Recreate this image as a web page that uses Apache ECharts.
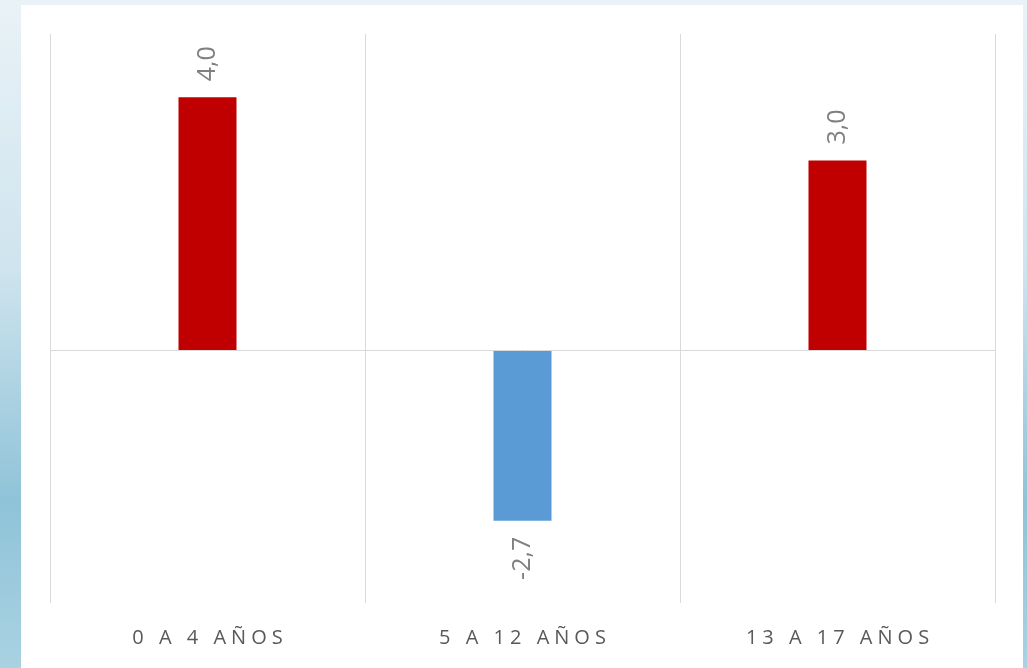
<!DOCTYPE html>
<html>
<head>
<meta charset="utf-8">
<script src="https://cdn.jsdelivr.net/npm/echarts@6/dist/echarts.min.js"></script>
<style>
  html, body {
    margin: 0;
    padding: 0;
    width: 1027px;
    height: 668px;
    overflow: hidden;
    background: linear-gradient(180deg, #e9f2f7 0%, #cfe4ee 40%, #8fc3d8 75%, #a9d2e2 100%);
  }
  .panel {
    position: absolute;
    left: 21px;
    top: 5px;
    width: 1002px;
    height: 663px;
    background: #ffffff;
  }
  #chart {
    position: absolute;
    left: 0;
    top: 0;
    width: 1027px;
    height: 668px;
  }
</style>
</head>
<body>
<div class="panel"></div>
<div id="chart"></div>
<script>
  // datos
  var categorias = ['0 A 4 AÑOS', '5 A 12 AÑOS', '13 A 17 AÑOS']
  var valores = [4.0, -2.7, 3.0]

  var rojo = '#C00000'
  var azul = '#5B9BD5'

  var myChart = echarts.init(document.getElementById('chart'))

  var barData = valores.map(function (v) {
    return {
      value: v,
      itemStyle: { color: v < 0 ? azul : rojo },
      label: v < 0
        ? { position: 'bottom', align: 'right' }
        : { position: 'top', align: 'left' }
    }
  })

  // espaciado entre letras (no hay letterSpacing en echarts)
  function espaciar(v) {
    return v.replace(/(\S)(?=\S)/g, '$1\u2005').replace(/ /g, '\u2005 \u2005')
  }

  var option = {
    animation: false,
    grid: {
      left: 50,
      right: 32,
      top: 34,
      bottom: 65
    },
    xAxis: {
      type: 'category',
      data: categorias,
      axisLine: { show: false },
      axisTick: { show: false },
      splitLine: {
        show: true,
        lineStyle: { color: '#d9d9d9', width: 1 }
      },
      axisLabel: {
        margin: 25,
        color: '#595959',
        fontFamily: 'Open Sans',
        fontSize: 20,
        formatter: espaciar
      }
    },
    yAxis: {
      type: 'value',
      min: -4,
      max: 5,
      show: false
    },
    series: [
      {
        type: 'bar',
        barWidth: 58,
        data: barData,
        label: {
          show: true,
          rotate: 90,
          distance: 16,
          verticalAlign: 'middle',
          color: '#808080',
          fontFamily: 'Open Sans',
          fontSize: 25,
          formatter: function (p) {
            return p.value.toFixed(1).replace('.', ',')
          }
        },
        markLine: {
          silent: true,
          symbol: 'none',
          label: { show: false },
          lineStyle: { color: '#d9d9d9', width: 1, type: 'solid' },
          data: [{ yAxis: 0 }]
        }
      }
    ]
  }

  myChart.setOption(option)
</script>
</body>
</html>
